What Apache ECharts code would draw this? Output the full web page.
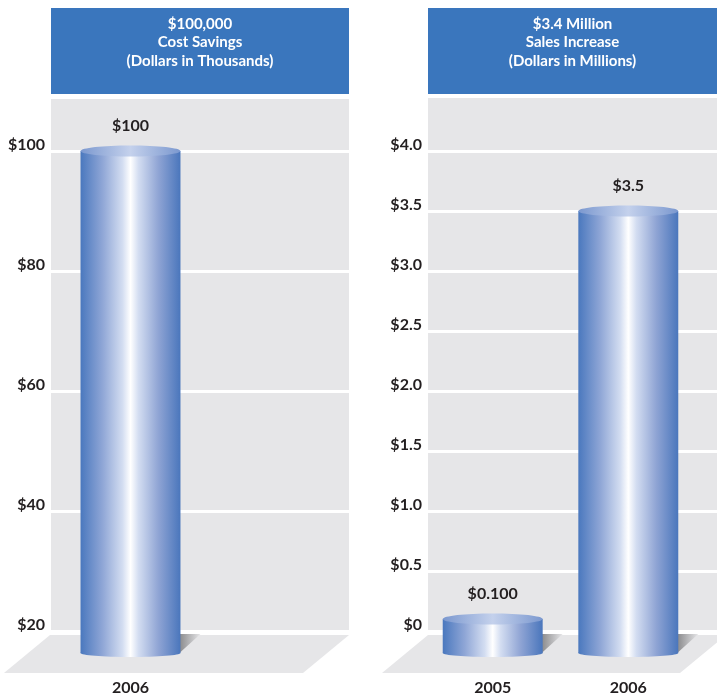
<!DOCTYPE html>
<html><head><meta charset="utf-8">
<script src="https://cdn.jsdelivr.net/npm/echarts@6/dist/echarts.min.js"></script>
<style>html,body{margin:0;padding:0;background:#fff}#c{width:717px;height:696px}</style>
</head><body><div id="c"></div>
<script>
// ---- data ----
const leftTitle = '$100,000\nCost Savings\n(Dollars in Thousands)';
const rightTitle = '$3.4 Million\nSales Increase\n(Dollars in Millions)';
const leftCategories = ['2006'];
const leftValues = [100];
const leftValueLabels = ['$100'];
const leftTickLabels = ['$20', '$40', '$60', '$80', '$100'];
const rightCategories = ['2005', '2006'];
const rightValues = [0.1, 3.5];
const rightValueLabels = ['$0.100', '$3.5'];
const rightTickLabels = ['$0', '$0.5', '$1.0', '$1.5', '$2.0', '$2.5', '$3.0', '$3.5', '$4.0'];

// ---- style ----
const FONT = 'Lato, "DejaVu Sans", sans-serif';
const INK = '#231f20';
const GRAY = '#e6e6e8';
const BLUE = '#3a76bd';
const L = {min: 20, max: 109, interval: 20};
const R = {min: 0, max: 4.458, interval: 0.5};

const bodyGrad = () => new echarts.graphic.LinearGradient(0, 0, 1, 0, [
  {offset: 0, color: '#4a78be'}, {offset: 0.22, color: '#8fa6d6'},
  {offset: 0.42, color: '#d3ddf1'}, {offset: 0.5, color: '#ffffff'},
  {offset: 0.58, color: '#d3ddf1'}, {offset: 0.78, color: '#8fa4d4'},
  {offset: 1, color: '#4a76bc'}]);
const topGrad = () => new echarts.graphic.LinearGradient(0, 0, 1, 0, [
  {offset: 0, color: '#7b98cf'}, {offset: 0.5, color: '#c4d1ec'}, {offset: 1, color: '#7b98cf'}]);

function makeRender(labels, yMin) {
  return function (params, api) {
    const cat = api.value(0), val = api.value(1);
    const top = api.coord([cat, val]);
    const base = api.coord([cat, yMin]);
    const w = api.size([1, 0])[0] * 0.737;
    const cx = top[0], x0 = cx - w / 2;
    const ry = 5.5;
    const yTop = top[1];
    const yBot = base[1] + 22;
    return {
      type: 'group',
      children: [
        {type: 'polygon', shape: {points: [[x0 + w - 1, base[1] + 3], [x0 + w + 20, base[1] + 3], [x0 + w - 1, yBot]]},
          style: {fill: new echarts.graphic.LinearGradient(0, 0, 1, 0, [{offset: 0, color: '#8a8a8c'}, {offset: 1, color: GRAY}])}},
        {type: 'ellipse', shape: {cx: cx, cy: yBot, rx: w / 2, ry: ry - 1.5}, style: {fill: bodyGrad()}},
        {type: 'rect', shape: {x: x0, y: yTop, width: w, height: yBot - yTop}, style: {fill: bodyGrad()}},
        {type: 'ellipse', shape: {cx: cx, cy: yTop, rx: w / 2, ry: ry}, style: {fill: topGrad()}},
        {type: 'text', style: {text: labels[params.dataIndex], x: cx, y: yTop - ry - 12,
          textAlign: 'center', align: 'center', textVerticalAlign: 'bottom', verticalAlign: 'bottom',
          font: 'bold 16px ' + FONT, fill: INK}}
      ]
    };
  };
}

function yAxisFor(gridIndex, cfg, ticks, show) {
  return {
    type: 'value', gridIndex: gridIndex, min: cfg.min, max: cfg.max, interval: cfg.interval, show: show,
    axisLine: {show: false}, axisTick: {show: false},
    splitLine: {show: show, lineStyle: {color: '#ffffff', width: 3}},
    axisLabel: {
      show: show, showMaxLabel: false, margin: 6, color: INK, fontSize: 16, fontWeight: 'bold', fontFamily: FONT,
      verticalAlign: 'bottom', lineHeight: 13,
      formatter: v => ticks[Math.round((v - cfg.min) / cfg.interval)] || ''
    }
  };
}
function xAxisFor(gridIndex, cats, show) {
  return {
    type: 'category', gridIndex: gridIndex, data: cats, show: show, boundaryGap: true,
    axisLine: {show: false}, axisTick: {show: false}, splitLine: {show: false},
    axisLabel: {margin: 49, color: INK, fontSize: 16, fontWeight: 'bold', fontFamily: FONT}
  };
}

const chart = echarts.init(document.getElementById('c'), null, {renderer: 'canvas'});
chart.setOption({
  backgroundColor: '#ffffff',
  animation: false,
  grid: [
    {left: 51, top: 97, width: 298, bottom: 65, show: true, backgroundColor: GRAY, borderWidth: 0},
    {left: 62.7, top: 97, width: 135.6, bottom: 65},
    {left: 428, top: 96, right: 0, bottom: 65, show: true, backgroundColor: GRAY, borderWidth: 0},
    {left: 424.9, top: 96, width: 271.2, bottom: 65}
  ],
  xAxis: [
    xAxisFor(0, [''], false),
    xAxisFor(1, leftCategories, true),
    xAxisFor(2, [''], false),
    xAxisFor(3, rightCategories, true)
  ],
  yAxis: [
    yAxisFor(0, L, leftTickLabels, true),
    yAxisFor(1, L, leftTickLabels, false),
    yAxisFor(2, R, rightTickLabels, true),
    yAxisFor(3, R, rightTickLabels, false)
  ],
  graphic: [
    {type: 'polygon', z: 1, shape: {points: [[50, 635], [349, 635], [303, 673], [4, 673]]}, style: {fill: GRAY}},
    {type: 'polygon', z: 1, shape: {points: [[428, 635], [726, 635], [680, 673], [382, 673]]}, style: {fill: GRAY}},
    {type: 'rect', z: 1, shape: {x: 51, y: 8, width: 298, height: 86}, style: {fill: BLUE}},
    {type: 'rect', z: 1, shape: {x: 428, y: 8, width: 289, height: 86}, style: {fill: BLUE}},
    {type: 'text', z: 2, x: 200, y: 14.5, style: {text: leftTitle, fill: '#ffffff', font: 'bold 15px ' + FONT,
      textAlign: 'center', align: 'center', lineHeight: 18.5}},
    {type: 'text', z: 2, x: 572.5, y: 14.5, style: {text: rightTitle, fill: '#ffffff', font: 'bold 15px ' + FONT,
      textAlign: 'center', align: 'center', lineHeight: 18.5}}
  ],
  series: [
    {type: 'custom', xAxisIndex: 1, yAxisIndex: 1, z: 5, renderItem: makeRender(leftValueLabels, L.min),
      data: leftValues.map((v, i) => [i, v]), encode: {x: 0, y: 1}, clip: false},
    {type: 'custom', xAxisIndex: 3, yAxisIndex: 3, z: 5, renderItem: makeRender(rightValueLabels, R.min),
      data: rightValues.map((v, i) => [i, v]), encode: {x: 0, y: 1}, clip: false}
  ]
});
</script></body></html>
